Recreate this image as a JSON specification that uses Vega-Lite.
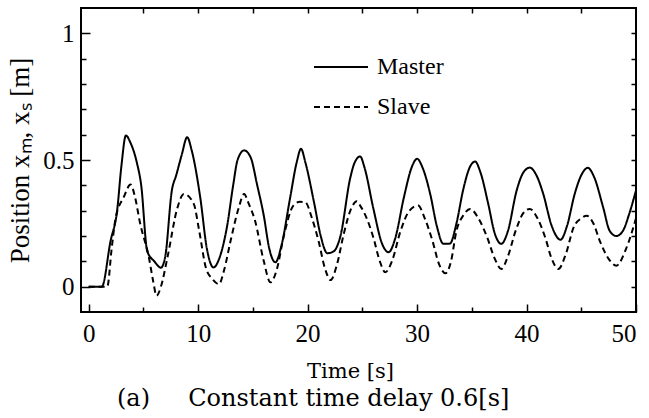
{
  "$schema": "https://vega.github.io/schema/vega-lite/v6.json",
  "width": 555,
  "height": 304,
  "autosize": {"type": "none"},
  "padding": {"left": 81, "top": 8, "right": 13, "bottom": 106},
  "background": "white",
  "config": {
    "view": {"stroke": "black", "strokeWidth": 2},
    "axis": {"domain": false, "grid": false, "tickColor": "black", "labelColor": "black", "titleColor": "black", "tickWidth": 1.5}
  },
  "title": {
    "text": "(a)\u00a0\u00a0\u00a0\u00a0\u00a0Constant time delay 0.6[s]",
    "orient": "bottom",
    "anchor": "start",
    "frame": "group",
    "dx": 36,
    "offset": 6,
    "font": "DejaVu Serif",
    "fontSize": 24,
    "fontWeight": "normal",
    "color": "black"
  },
  "data": {
    "values": [
      {"t": 0, "pos": 0, "series": "Master"},
      {"t": 1.2, "pos": 0, "series": "Master"},
      {"t": 2.0, "pos": 0.18, "series": "Master"},
      {"t": 2.6, "pos": 0.3, "series": "Master"},
      {"t": 3.0, "pos": 0.48, "series": "Master"},
      {"t": 3.4, "pos": 0.597, "series": "Master"},
      {"t": 3.8, "pos": 0.57, "series": "Master"},
      {"t": 4.4, "pos": 0.49, "series": "Master"},
      {"t": 4.8, "pos": 0.4, "series": "Master"},
      {"t": 5.35, "pos": 0.14, "series": "Master"},
      {"t": 6.0, "pos": 0.1, "series": "Master"},
      {"t": 6.6, "pos": 0.075, "series": "Master"},
      {"t": 7.0, "pos": 0.12, "series": "Master"},
      {"t": 7.6, "pos": 0.38, "series": "Master"},
      {"t": 8.0, "pos": 0.44, "series": "Master"},
      {"t": 8.5, "pos": 0.52, "series": "Master"},
      {"t": 9.0, "pos": 0.59, "series": "Master"},
      {"t": 9.4, "pos": 0.54, "series": "Master"},
      {"t": 10.2, "pos": 0.35, "series": "Master"},
      {"t": 10.8, "pos": 0.15, "series": "Master"},
      {"t": 11.4, "pos": 0.076, "series": "Master"},
      {"t": 12.0, "pos": 0.12, "series": "Master"},
      {"t": 12.65, "pos": 0.24, "series": "Master"},
      {"t": 13.2, "pos": 0.4, "series": "Master"},
      {"t": 13.6, "pos": 0.5, "series": "Master"},
      {"t": 14.2, "pos": 0.538, "series": "Master"},
      {"t": 14.8, "pos": 0.51, "series": "Master"},
      {"t": 15.4, "pos": 0.4, "series": "Master"},
      {"t": 16.0, "pos": 0.28, "series": "Master"},
      {"t": 16.5, "pos": 0.15, "series": "Master"},
      {"t": 17.06, "pos": 0.096, "series": "Master"},
      {"t": 17.6, "pos": 0.16, "series": "Master"},
      {"t": 18.4, "pos": 0.35, "series": "Master"},
      {"t": 19.0, "pos": 0.49, "series": "Master"},
      {"t": 19.4, "pos": 0.544, "series": "Master"},
      {"t": 19.8, "pos": 0.49, "series": "Master"},
      {"t": 20.6, "pos": 0.33, "series": "Master"},
      {"t": 21.2, "pos": 0.2, "series": "Master"},
      {"t": 21.8, "pos": 0.132, "series": "Master"},
      {"t": 22.4, "pos": 0.14, "series": "Master"},
      {"t": 23.0, "pos": 0.2, "series": "Master"},
      {"t": 23.9, "pos": 0.43, "series": "Master"},
      {"t": 24.3, "pos": 0.49, "series": "Master"},
      {"t": 24.8, "pos": 0.514, "series": "Master"},
      {"t": 25.2, "pos": 0.47, "series": "Master"},
      {"t": 26.0, "pos": 0.31, "series": "Master"},
      {"t": 26.8, "pos": 0.17, "series": "Master"},
      {"t": 27.4, "pos": 0.136, "series": "Master"},
      {"t": 28.0, "pos": 0.19, "series": "Master"},
      {"t": 28.8, "pos": 0.353, "series": "Master"},
      {"t": 29.5, "pos": 0.47, "series": "Master"},
      {"t": 30.0, "pos": 0.505, "series": "Master"},
      {"t": 30.5, "pos": 0.47, "series": "Master"},
      {"t": 31.2, "pos": 0.366, "series": "Master"},
      {"t": 31.8, "pos": 0.24, "series": "Master"},
      {"t": 32.4, "pos": 0.169, "series": "Master"},
      {"t": 33.0, "pos": 0.17, "series": "Master"},
      {"t": 33.6, "pos": 0.25, "series": "Master"},
      {"t": 34.2, "pos": 0.38, "series": "Master"},
      {"t": 34.8, "pos": 0.47, "series": "Master"},
      {"t": 35.3, "pos": 0.494, "series": "Master"},
      {"t": 35.8, "pos": 0.45, "series": "Master"},
      {"t": 36.5, "pos": 0.327, "series": "Master"},
      {"t": 37.1, "pos": 0.21, "series": "Master"},
      {"t": 37.7, "pos": 0.169, "series": "Master"},
      {"t": 38.3, "pos": 0.22, "series": "Master"},
      {"t": 39.1, "pos": 0.38, "series": "Master"},
      {"t": 39.7, "pos": 0.45, "series": "Master"},
      {"t": 40.3, "pos": 0.47, "series": "Master"},
      {"t": 40.9, "pos": 0.44, "series": "Master"},
      {"t": 41.5, "pos": 0.37, "series": "Master"},
      {"t": 42.3, "pos": 0.24, "series": "Master"},
      {"t": 43.1, "pos": 0.185, "series": "Master"},
      {"t": 43.7, "pos": 0.24, "series": "Master"},
      {"t": 44.4, "pos": 0.366, "series": "Master"},
      {"t": 45.0, "pos": 0.44, "series": "Master"},
      {"t": 45.6, "pos": 0.469, "series": "Master"},
      {"t": 46.2, "pos": 0.43, "series": "Master"},
      {"t": 47.0, "pos": 0.313, "series": "Master"},
      {"t": 47.6, "pos": 0.22, "series": "Master"},
      {"t": 48.2, "pos": 0.2, "series": "Master"},
      {"t": 48.8, "pos": 0.22, "series": "Master"},
      {"t": 49.4, "pos": 0.29, "series": "Master"},
      {"t": 50.0, "pos": 0.38, "series": "Master"},
      {"t": 0, "pos": 0, "series": "Slave"},
      {"t": 1.7, "pos": 0, "series": "Slave"},
      {"t": 2.1, "pos": 0.15, "series": "Slave"},
      {"t": 2.46, "pos": 0.27, "series": "Slave"},
      {"t": 3.2, "pos": 0.353, "series": "Slave"},
      {"t": 3.83, "pos": 0.403, "series": "Slave"},
      {"t": 4.2, "pos": 0.36, "series": "Slave"},
      {"t": 4.7, "pos": 0.25, "series": "Slave"},
      {"t": 5.5, "pos": 0.116, "series": "Slave"},
      {"t": 5.9, "pos": 0.02, "series": "Slave"},
      {"t": 6.2, "pos": -0.036, "series": "Slave"},
      {"t": 6.6, "pos": 0.0, "series": "Slave"},
      {"t": 7.2, "pos": 0.116, "series": "Slave"},
      {"t": 8.1, "pos": 0.31, "series": "Slave"},
      {"t": 8.7, "pos": 0.366, "series": "Slave"},
      {"t": 9.6, "pos": 0.327, "series": "Slave"},
      {"t": 10.1, "pos": 0.22, "series": "Slave"},
      {"t": 10.7, "pos": 0.076, "series": "Slave"},
      {"t": 11.3, "pos": 0.03, "series": "Slave"},
      {"t": 11.9, "pos": 0.01, "series": "Slave"},
      {"t": 12.4, "pos": 0.07, "series": "Slave"},
      {"t": 12.96, "pos": 0.18, "series": "Slave"},
      {"t": 13.7, "pos": 0.31, "series": "Slave"},
      {"t": 14.2, "pos": 0.366, "series": "Slave"},
      {"t": 14.6, "pos": 0.33, "series": "Slave"},
      {"t": 15.2, "pos": 0.26, "series": "Slave"},
      {"t": 16.0, "pos": 0.1, "series": "Slave"},
      {"t": 16.6, "pos": 0.017, "series": "Slave"},
      {"t": 17.2, "pos": 0.07, "series": "Slave"},
      {"t": 17.8, "pos": 0.195, "series": "Slave"},
      {"t": 18.7, "pos": 0.32, "series": "Slave"},
      {"t": 19.3, "pos": 0.335, "series": "Slave"},
      {"t": 19.8, "pos": 0.333, "series": "Slave"},
      {"t": 20.4, "pos": 0.27, "series": "Slave"},
      {"t": 21.0, "pos": 0.18, "series": "Slave"},
      {"t": 21.6, "pos": 0.07, "series": "Slave"},
      {"t": 22.1, "pos": 0.026, "series": "Slave"},
      {"t": 22.7, "pos": 0.09, "series": "Slave"},
      {"t": 23.3, "pos": 0.208, "series": "Slave"},
      {"t": 24.0, "pos": 0.31, "series": "Slave"},
      {"t": 24.5, "pos": 0.337, "series": "Slave"},
      {"t": 24.8, "pos": 0.32, "series": "Slave"},
      {"t": 25.4, "pos": 0.27, "series": "Slave"},
      {"t": 26.0, "pos": 0.195, "series": "Slave"},
      {"t": 26.6, "pos": 0.1, "series": "Slave"},
      {"t": 27.1, "pos": 0.057, "series": "Slave"},
      {"t": 27.7, "pos": 0.1, "series": "Slave"},
      {"t": 28.5, "pos": 0.221, "series": "Slave"},
      {"t": 29.3, "pos": 0.3, "series": "Slave"},
      {"t": 30.1, "pos": 0.32, "series": "Slave"},
      {"t": 30.7, "pos": 0.27, "series": "Slave"},
      {"t": 31.4, "pos": 0.182, "series": "Slave"},
      {"t": 32.0, "pos": 0.09, "series": "Slave"},
      {"t": 32.6, "pos": 0.053, "series": "Slave"},
      {"t": 33.1, "pos": 0.1, "series": "Slave"},
      {"t": 33.6, "pos": 0.221, "series": "Slave"},
      {"t": 34.2, "pos": 0.28, "series": "Slave"},
      {"t": 34.85, "pos": 0.307, "series": "Slave"},
      {"t": 35.6, "pos": 0.27, "series": "Slave"},
      {"t": 36.4, "pos": 0.195, "series": "Slave"},
      {"t": 37.1, "pos": 0.11, "series": "Slave"},
      {"t": 37.7, "pos": 0.07, "series": "Slave"},
      {"t": 38.3, "pos": 0.12, "series": "Slave"},
      {"t": 39.0, "pos": 0.22, "series": "Slave"},
      {"t": 39.7, "pos": 0.29, "series": "Slave"},
      {"t": 40.3, "pos": 0.307, "series": "Slave"},
      {"t": 41.0, "pos": 0.27, "series": "Slave"},
      {"t": 41.7, "pos": 0.195, "series": "Slave"},
      {"t": 42.3, "pos": 0.11, "series": "Slave"},
      {"t": 42.9, "pos": 0.07, "series": "Slave"},
      {"t": 43.6, "pos": 0.13, "series": "Slave"},
      {"t": 44.3, "pos": 0.234, "series": "Slave"},
      {"t": 45.0, "pos": 0.27, "series": "Slave"},
      {"t": 45.5, "pos": 0.28, "series": "Slave"},
      {"t": 46.1, "pos": 0.25, "series": "Slave"},
      {"t": 46.7, "pos": 0.18, "series": "Slave"},
      {"t": 47.5, "pos": 0.11, "series": "Slave"},
      {"t": 48.2, "pos": 0.083, "series": "Slave"},
      {"t": 49.1, "pos": 0.15, "series": "Slave"},
      {"t": 50.0, "pos": 0.27, "series": "Slave"}
    ]
  },
  "layer": [
    {
      "transform": [{"filter": "datum.series === 'Master'"}],
      "mark": {"type": "line", "color": "black", "strokeWidth": 2, "interpolate": "monotone", "clip": true},
      "encoding": {
        "x": {
          "field": "t", "type": "quantitative",
          "scale": {"domain": [-0.7, 50], "nice": false, "zero": false},
          "axis": {
            "orient": "bottom",
            "values": [0, 5, 10, 15, 20, 25, 30, 35, 40, 45, 50],
            "tickSize": {"condition": {"test": "datum.value % 10 === 0", "value": -8}, "value": -5},
            "labelExpr": "datum.value % 10 === 0 ? format(datum.value, 'd') : ''",
            "labelFont": "Liberation Serif, Times New Roman, serif", "labelFontSize": 25, "labelPadding": 17,
            "title": "Time [s]", "titleFont": "DejaVu Serif", "titleFontSize": 21, "titleFontWeight": "normal",
            "titlePadding": 14, "titleX": 269
          }
        },
        "y": {
          "field": "pos", "type": "quantitative",
          "scale": {"domain": [-0.1, 1.1], "nice": false, "zero": false},
          "axis": {
            "orient": "left",
            "values": [0, 0.1, 0.2, 0.3, 0.4, 0.5, 0.6, 0.7, 0.8, 0.9, 1],
            "tickSize": {"condition": {"test": "abs(datum.value*2 - round(datum.value*2)) < 0.001", "value": -9}, "value": -5},
            "labelExpr": "abs(datum.value*2 - round(datum.value*2)) < 0.001 ? format(datum.value, '~g') : ''",
            "labelFont": "Liberation Serif, Times New Roman, serif", "labelFontSize": 25, "labelPadding": 16,
            "title": "Position xₘ, xₛ [m]", "titleFont": "Liberation Serif, Times New Roman, serif", "titleFontSize": 27, "titleFontWeight": "normal",
            "titlePadding": 8
          }
        },
        "strokeDash": {
          "field": "series", "type": "nominal",
          "scale": {"domain": ["Master", "Slave"], "range": [[1, 0], [6, 4]]},
          "legend": {
            "orient": "none", "legendX": 232, "legendY": 31, "title": null,
            "symbolType": "stroke", "symbolSize": 2916, "symbolStrokeWidth": 2, "symbolStrokeColor": "black",
            "labelFont": "Liberation Serif, Times New Roman, serif", "labelFontSize": 24, "labelColor": "black", "labelOffset": 8, "rowPadding": -2
          }
        }
      }
    },
    {
      "transform": [{"filter": "datum.series === 'Slave'"}],
      "mark": {"type": "line", "color": "black", "strokeWidth": 2, "interpolate": "monotone", "clip": true},
      "encoding": {
        "x": {
          "field": "t", "type": "quantitative",
          "axis": {
            "orient": "top",
            "values": [5, 10, 15, 20, 25, 30, 35, 40, 45],
            "tickSize": -5, "labels": false, "title": null
          }
        },
        "y": {
          "field": "pos", "type": "quantitative",
          "axis": {
            "orient": "right",
            "values": [0, 0.1, 0.2, 0.3, 0.4, 0.5, 0.6, 0.7, 0.8, 0.9, 1],
            "tickSize": -5, "labels": false, "title": null
          }
        },
        "strokeDash": {"field": "series", "type": "nominal"}
      }
    }
  ],
  "resolve": {"axis": {"x": "independent", "y": "independent"}}
}
